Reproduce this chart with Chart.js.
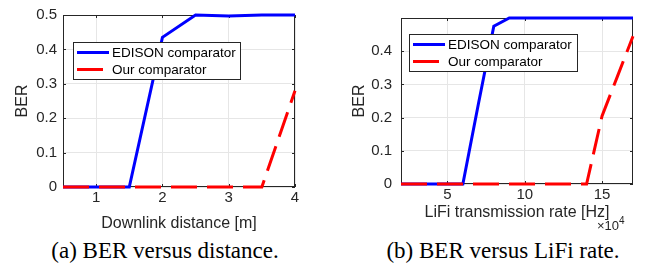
<!DOCTYPE html>
<html>
<head>
<meta charset="utf-8">
<script src="https://cdn.jsdelivr.net/npm/chart.js@4.4.1/dist/chart.umd.min.js"></script>
<style>
  html, body { margin: 0; padding: 0; background: #fff; }
  #pagina { position: relative; width: 648px; height: 276px; overflow: hidden; }
  .painel { position: absolute; top: 0; width: 324px; height: 236px; }
  .legenda { position: absolute; top: 237px; line-height: 28px; font-family: "Liberation Serif", "Times New Roman", serif;
             font-size: 23px; color: #000; white-space: nowrap; transform: translateX(-50%); }
</style>
</head>
<body>
<div id="pagina">
  <div class="painel" style="left:0"><canvas id="chartDist"></canvas></div>
  <div class="painel" style="left:324px"><canvas id="chartRate"></canvas></div>
  <div class="legenda" style="left:165px">(a) BER versus distance.</div>
  <div class="legenda" style="left:503px">(b) BER versus LiFi rate.</div>
</div>
<script>
// dados (a): distancia em metros
const distances = [0.5, 1, 1.5, 2, 2.5, 3, 3.5, 4];
const edisonByDist = [0, 0, 0, 0.435, 0.5, 0.497, 0.5, 0.5];
const oursByDist = [0, 0, 0, 0, 0, 0, 0, 0.28];
const distTicks = [1, 2, 3, 4];
const berTicksDist = [0, 0.1, 0.2, 0.3, 0.4, 0.5];

// dados da figura (b): taxa em unidades de 10^4 Hz
const rates = [2, 3, 4, 5, 6, 7, 8, 9, 10, 11, 12, 13, 14, 15, 16, 17];
const edisonByRate = [0, 0, 0, 0, 0, 0.24, 0.475, 0.5, 0.5, 0.5, 0.5, 0.5, 0.5, 0.5, 0.5, 0.5];
const oursByRate = [0, 0, 0, 0, 0, 0, 0, 0, 0, 0, 0, 0, 0, 0.205, 0.325, 0.445];
const rateTicks = [5, 10, 15];
const berTicksRate = [0, 0.1, 0.2, 0.3, 0.4];

const seriesNames = ['EDISON comparator', 'Our comparator'];

const fonte = "'Liberation Sans', Arial, sans-serif";
const cinza = '#262626';
const azul = '#0000ff';
const vermelho = '#ff0000';
const tracejado = [26, 10];

// caixa em volta da area (estilo matlab) com os tracinhos para dentro
const moldura = {
  id: 'moldura',
  beforeDatasetsDraw(chart) {
    const { ctx, chartArea: a, scales } = chart;
    ctx.save();
    ctx.strokeStyle = cinza;
    ctx.lineWidth = 1;
    ctx.strokeRect(a.left + 0.5, a.top + 0.5, a.right - a.left - 1, a.bottom - a.top - 1);
    ctx.beginPath();
    scales.x.ticks.forEach(t => {
      const px = Math.round(scales.x.getPixelForValue(t.value)) + 0.5;
      ctx.moveTo(px, a.bottom); ctx.lineTo(px, a.bottom - 3);
      ctx.moveTo(px, a.top); ctx.lineTo(px, a.top + 3);
    });
    scales.y.ticks.forEach(t => {
      const py = Math.round(scales.y.getPixelForValue(t.value)) + 0.5;
      ctx.moveTo(a.left, py); ctx.lineTo(a.left + 3, py);
      ctx.moveTo(a.right, py); ctx.lineTo(a.right - 3, py);
    });
    ctx.stroke();
    ctx.restore();
  }
};

// legenda desenhada dentro do grafico, com borda
const caixaLegenda = {
  id: 'caixaLegenda',
  afterDraw(chart, args, opts) {
    const { ctx } = chart;
    ctx.save();
    ctx.fillStyle = '#fff';
    ctx.fillRect(opts.x, opts.y, opts.w, opts.h);
    ctx.strokeStyle = cinza;
    ctx.lineWidth = 1;
    ctx.strokeRect(opts.x + 0.5, opts.y + 0.5, opts.w, opts.h);
    chart.data.datasets.forEach((ds, i) => {
      const yy = opts.y + 10.5 + i * 17;
      ctx.beginPath();
      ctx.strokeStyle = ds.borderColor;
      ctx.lineWidth = 3;
      ctx.setLineDash(ds.borderDash || []);
      ctx.moveTo(opts.x + 4, yy);
      ctx.lineTo(opts.x + 36, yy);
      ctx.stroke();
      ctx.setLineDash([]);
      ctx.fillStyle = '#000';
      ctx.font = '13.5px ' + fonte;
      ctx.textBaseline = 'middle';
      ctx.fillText(ds.label, opts.x + 39, yy + 1);
    });
    // o x10^4 do eixo da taxa
    if (opts.expoente) {
      ctx.fillStyle = cinza;
      ctx.font = '13px ' + fonte;
      ctx.textBaseline = 'alphabetic';
      ctx.fillText('\u00d710', opts.expoente.x, opts.expoente.y);
      const w = ctx.measureText('\u00d710').width;
      ctx.font = '10px ' + fonte;
      ctx.fillText('4', opts.expoente.x + w, opts.expoente.y - 6);
    }
    ctx.restore();
  }
};

function makeChart(id, cfg) {
  const ctx = document.getElementById(id).getContext('2d');
  return new Chart(ctx, {
    type: 'line',
    data: {
      labels: cfg.xs,
      datasets: [
        { label: seriesNames[0], data: cfg.xs.map((x, i) => ({ x, y: cfg.edison[i] })), borderColor: azul,
          borderWidth: 3, pointRadius: 0, order: 1, clip: false },
        { label: seriesNames[1], data: cfg.xs.map((x, i) => ({ x, y: cfg.ours[i] })), borderColor: vermelho,
          borderWidth: 3, borderDash: tracejado, borderCapStyle: 'butt', pointRadius: 0, order: 0, clip: false }
      ]
    },
    options: {
      responsive: true,
      maintainAspectRatio: false,
      animation: false,
      layout: { padding: { top: 11, right: cfg.padRight, left: 0, bottom: 0 } },
      plugins: {
        legend: { display: false },
        tooltip: { enabled: false },
        caixaLegenda: cfg.legenda
      },
      scales: {
        x: {
          type: 'linear', min: cfg.xMin, max: cfg.xMax,
          afterBuildTicks: s => { s.ticks = cfg.xTicks.map(v => ({ value: v })); },
          afterFit: s => { s.height = cfg.xHeight; },
          grid: { color: '#e6e6e6', drawTicks: false },
          border: { display: false },
          ticks: { color: cinza, font: { family: fonte, size: 15 }, padding: 2, maxRotation: 0, autoSkip: false },
          title: { display: true, text: cfg.xTitle, color: cinza, font: { family: fonte, size: 16 },
                   padding: { top: 0, bottom: cfg.xTitlePad } }
        },
        y: {
          type: 'linear', min: 0, max: 0.5,
          afterBuildTicks: s => { s.ticks = cfg.yTicks.map(v => ({ value: v })); },
          afterFit: s => { s.width = cfg.yWidth; },
          grid: { color: '#e6e6e6', drawTicks: false },
          border: { display: false },
          ticks: { color: cinza, font: { family: fonte, size: 15 }, padding: cfg.yTickPad, autoSkip: false },
          title: { display: true, text: 'BER', color: cinza, font: { family: fonte, size: 16 },
                   padding: { top: cfg.yTitlePad, bottom: 0 } }
        }
      }
    },
    plugins: [moldura, caixaLegenda]
  });
}

makeChart('chartDist', {
  xs: distances, edison: edisonByDist, ours: oursByDist,
  xMin: 0.5, xMax: 4, xTicks: distTicks, yTicks: berTicksDist,
  xTitle: 'Downlink distance [m]',
  padRight: 29, xHeight: 49, yWidth: 63, xTitlePad: 3, yTitlePad: 13, yTickPad: 6,
  legenda: { x: 73, y: 42, w: 167, h: 37 }
});

makeChart('chartRate', {
  xs: rates, edison: edisonByRate, ours: oursByRate,
  xMin: 2, xMax: 17, xTicks: rateTicks, yTicks: berTicksRate,
  xTitle: 'LiFi transmission rate [Hz]',
  padRight: 15, xHeight: 52, yWidth: 77, xTitlePad: 14, yTitlePad: 26, yTickPad: 9,
  legenda: { x: 85, y: 34, w: 168, h: 37, expoente: { x: 273, y: 230 } }
});
</script>
</body>
</html>
